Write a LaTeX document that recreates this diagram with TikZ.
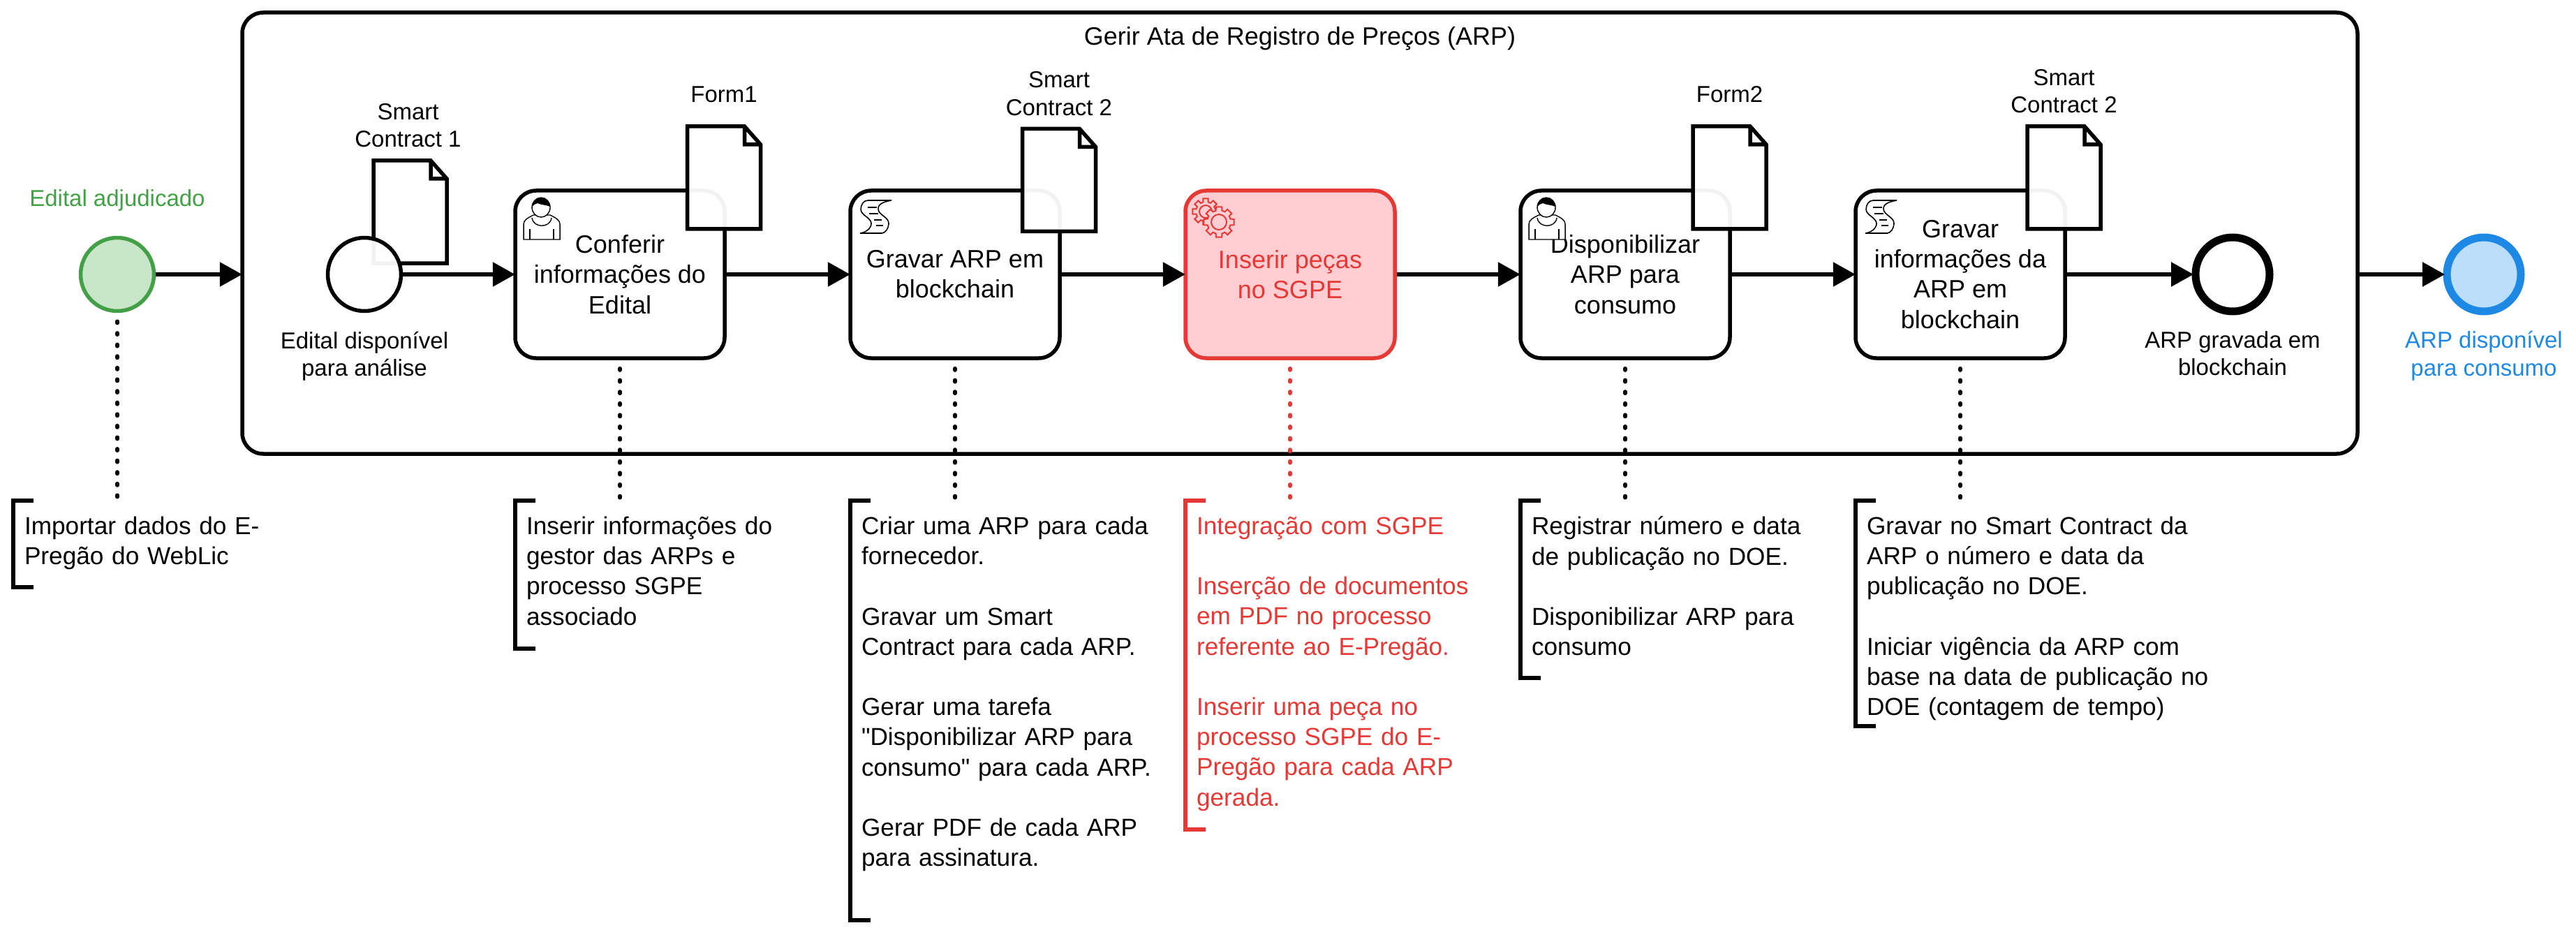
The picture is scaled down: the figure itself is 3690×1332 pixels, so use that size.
\documentclass[tikz,border=0pt]{standalone}
\usepackage{fontspec}
\setmainfont{Liberation Sans}[Ligatures=TeXOff]
\usetikzlibrary{arrows.meta,positioning}
\tikzset{>={Triangle[length=16pt,width=17pt]}}
\definecolor{startgreen}{HTML}{43A047}
\definecolor{startfill}{HTML}{C8E6C9}
\definecolor{endblue}{HTML}{1E88E5}
\definecolor{endfill}{HTML}{BBDEFB}
\definecolor{taskred}{HTML}{E53935}
\definecolor{redfill}{HTML}{FFCDD2}
\tikzset{
	usericon/.pic={
		\draw [line width=.7pt, fill=white] (12,70) -- (64,70) -- (64,48) .. controls (64,42) and (58,39) .. (50,35) -- (26,35) .. controls (18,39) and (12,42) .. (12,48) -- cycle;
		\draw [line width=.7pt] (24,39) .. controls (26,54) and (50,54) .. (52,39);
		\draw [line width=.7pt] (21,55) -- (21,70) (55,55) -- (55,70);
		\draw [line width=.7pt, fill=white] (37,24) ellipse [x radius=13, y radius=14];
		\fill (24,23) .. controls (24,6) and (50,6) .. (50,23) .. controls (44,20) and (38,21) .. (32,18) .. controls (29,19) and (26,20) .. (24,23) -- cycle;
	},
	scripticon/.pic={
		\draw [line width=.8pt, fill=white] (25,14) -- (59,14) .. controls (46,16) and (39,20) .. (40,27) .. controls (41,35) and (55,38) .. (55,47) .. controls (55,54) and (50,61) .. (45,61) -- (14,61) .. controls (22,60) and (30,54) .. (30,47) .. controls (30,39) and (15,35) .. (15,27) .. controls (15,20) and (19,14) .. (25,14) -- cycle;
		\draw [line width=.8pt] (25,24) -- (38,24) (27,33) -- (40,33) (34,42) -- (45,42) (37,50) -- (47,50);
	},
	gearicon/.pic={
		\foreach \cx/\cy/\ro/\ri/\rc in {29/30/19/14/9, 48/45/22/17/11} {
			\begin{scope}[shift={(\cx,\cy)}]
				\draw [taskred, line width=1pt, fill=redfill] (-11:\ro) \foreach \a in {0,45,...,315} { -- (\a-11:\ro) -- (\a+11:\ro) -- (\a+15:\ri) -- (\a+30:\ri) } -- cycle;
				\draw [taskred, line width=1pt] (0,0) circle [radius=\rc];
			\end{scope}
		}
	}
}

\begin{document}
\begin{tikzpicture}
	[x=.5pt, y=-.5pt, line width=2.75pt, inner sep=0pt, align=center,
	font=\fontsize{18}{21.6}\selectfont,
	gerir/.style={draw, rounded corners=15pt, minimum width=1515pt, minimum height=316pt},
	task/.style={draw, fill=white, rounded corners=15pt, minimum width=150pt, minimum height=120pt},
	redtask/.style={task, draw=taskred, fill=redfill, text=taskred},
	event/.style={draw, circle, minimum size=52.5pt},
	endevent/.style={draw, circle, line width=5.5pt, minimum size=53pt},
	docfile/.style={minimum width=52.5pt, minimum height=73.5pt, outer sep=0pt},
	docline/.style={draw, fill=white, fill opacity=.95, line join=miter},
	caption/.style={font=\fontsize{16.5}{19.6}\selectfont, outer sep=0pt},
	note/.style={align=left, anchor=north west, text width=260pt, inner xsep=8pt, inner ysep=11.5pt, outer sep=0pt, font=\fontsize{17.6}{21.6}\selectfont},
	bracket/.style={draw, line join=miter},
	flow/.style={->, shorten >=-1.3pt},
	assoc/.style={line cap=round, line width=2.75pt, dash pattern=on 1.2pt off 7.1pt, shorten <=6pt}]
	
	\useasboundingbox (0,0) rectangle (3690,1332);
	
	\node[gerir]   (gerir_arp)  at (1862,334) {};
	\node          (title_arp)  [below=10pt of gerir_arp.north] {Gerir Ata de Registro de Preços (ARP)};
	
	\node[task]    (task_one)   at (888,393)              {Conferir\\informações do\\Edital};
	\node[task]    (task_two)   [right=87.25pt of task_one]   {Gravar ARP em\\blockchain};
	\node[redtask] (task_three) [right=87.25pt of task_two]   {Inserir peças\\no SGPE};
	\node[task]    (task_four)  [right=87.25pt of task_three] {Disponibilizar\\ARP para\\consumo};
	\node[task]    (task_five)  [right=87.25pt of task_four]  {Gravar\\informações da\\ARP em\\blockchain};
	
	\pic [xshift=1.4pt, yshift=-1.4pt] at (task_one.north west)   {usericon};
	\pic [xshift=1.4pt, yshift=-1.4pt] at (task_two.north west)   {scripticon};
	\pic [xshift=1.4pt, yshift=-1.4pt] at (task_three.north west) {gearicon};
	\pic [xshift=1.4pt, yshift=-1.4pt] at (task_four.north west)  {usericon};
	\pic [xshift=1.4pt, yshift=-1.4pt] at (task_five.north west)  {scripticon};
	
	\node[docfile] (doc_one)    at (587.5,303.5) {};
	\node[docfile] (doc_two)    at (1037,254.5)  {};
	\node[docfile] (doc_three)  at (1517,258)    {};
	\node[docfile] (doc_four)   at (2477.5,254.5) {};
	\node[docfile] (doc_five)   at (2956.5,254.5) {};
	
	\foreach \doc in {doc_one, doc_two, doc_three, doc_four, doc_five}
		\draw [docline] (\doc.north west) -- ([xshift=-11.5pt]\doc.north east) -- ([yshift=-13pt]\doc.north east) -- (\doc.south east) -- (\doc.south west) -- cycle ([xshift=-11.5pt]\doc.north east) -- ++(0,26) -- ++(23,0);
	
	\node[caption] (label_one)   [above=9.5pt of doc_one, xshift=-1.5pt] {Smart\\Contract 1};
	\node[caption] (label_two)   [above=17pt of doc_two]   {Form1};
	\node[caption] (label_three) [above=9.5pt of doc_three]  {Smart\\Contract 2};
	\node[caption] (label_four)  [above=17pt of doc_four]  {Form2};
	\node[caption] (label_five)  [above=9.5pt of doc_five]   {Smart\\Contract 2};
	
	\node[event, draw=startgreen, fill=startfill] (event_adjudicado) at (168,393) {};
	\node[event, fill=white, fill opacity=.95]    (event_disponivel) at (522,393) {};
	\node[endevent]                               (event_gravada)    at (3198,393) {};
	\node[endevent, draw=endblue, fill=endfill]   (event_consumo)    at (3558,393) {};
	
	\node[caption, text=startgreen] (label_adjudicado) [above=17.5pt of event_adjudicado] {Edital adjudicado};
	\node[caption]                  (label_disponivel) [below=13.5pt of event_disponivel] {Edital disponível\\para análise};
	\node[caption]                  (label_gravada)    [below=11.5pt of event_gravada]     {ARP gravada em\\blockchain};
	\node[caption, text=endblue]    (label_consumo)    [below=11.5pt of event_consumo]     {ARP disponível\\para consumo};
	
	\node[note] (note_zero) at (19,717) {Importar dados do E-\\Pregão do WebLic};
	\node[note] (note_one)   [below right=100.6pt and 1.4pt of task_one.south west] {Inserir informações do\\gestor das ARPs e\\processo SGPE\\associado};
	\node[note] (note_two)   [below right=100.6pt and 1.4pt of task_two.south west] {Criar uma ARP para cada\\fornecedor.\\[21.6pt]Gravar um Smart\\Contract para cada ARP.\\[21.6pt]Gerar uma tarefa\\"Disponibilizar ARP para\\consumo" para cada ARP.\\[21.6pt]Gerar PDF de cada ARP\\para assinatura.};
	\node[note, text=taskred] (note_three) [below right=100.6pt and 1.4pt of task_three.south west] {Integração com SGPE\\[21.6pt]Inserção de documentos\\em PDF no processo\\referente ao E-Pregão.\\[21.6pt]Inserir uma peça no\\processo SGPE do E-\\Pregão para cada ARP\\gerada.};
	\node[note] (note_four)  [below right=100.6pt and 1.4pt of task_four.south west] {Registrar número e data\\de publicação no DOE.\\[21.6pt]Disponibilizar ARP para\\consumo};
	\node[note] (note_five)  [below right=100.6pt and 1.4pt of task_five.south west] {Gravar no Smart Contract da\\ARP o número e data da\\publicação no DOE.\\[21.6pt]Iniciar vigência da ARP com\\base na data de publicação no\\DOE (contagem de tempo)};
	
	\foreach \n/\h/\c in {note_zero/124/black, note_one/212/black, note_two/601/black, note_three/471/taskred, note_four/254/black, note_five/323/black}
		\draw [bracket, draw=\c] ([xshift=14.5pt]\n.north west) -- (\n.north west) -- ++(0,\h) -- ++(29,0);
	
	\draw [flow] (event_adjudicado) to (event_adjudicado -| gerir_arp.west);
	\draw [flow] (event_disponivel) to (task_one);
	\draw [flow] (task_one)         to (task_two);
	\draw [flow] (task_two)         to (task_three);
	\draw [flow] (task_three)       to (task_four);
	\draw [flow] (task_four)        to (task_five);
	\draw [flow] (task_five)        to (event_gravada);
	\draw [flow] (gerir_arp.east |- event_consumo) to (event_consumo);
	
	\draw [assoc] (event_adjudicado.south) to (event_adjudicado.south |- note_zero.north);
	\draw [assoc] (task_one.south)         to (task_one.south |- note_one.north);
	\draw [assoc] (task_two.south)         to (task_two.south |- note_two.north);
	\draw [assoc, taskred] (task_three.south) to (task_three.south |- note_three.north);
	\draw [assoc] (task_four.south)        to (task_four.south |- note_four.north);
	\draw [assoc] (task_five.south)        to (task_five.south |- note_five.north);
\end{tikzpicture}
\end{document}
